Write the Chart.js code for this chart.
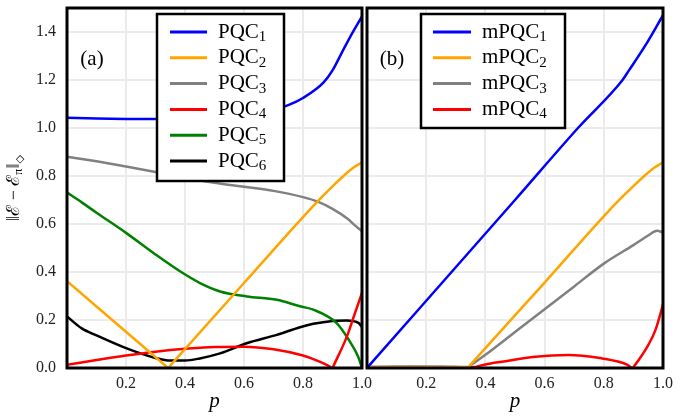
<!DOCTYPE html>
<html>
<head>
<meta charset="utf-8">
<script src="https://cdn.jsdelivr.net/npm/chart.js@4.4.1/dist/chart.umd.min.js"></script>
<style>
  html, body { margin: 0; padding: 0; background: #fff; }
  #wrap { position: relative; width: 684px; height: 418px; overflow: hidden; }
  .panel { position: absolute; top: 0; height: 418px; }
  #panelA { left: 0; width: 380px; }
  #panelB { left: 364px; width: 320px; }
</style>
</head>
<body>
<div id="wrap">
  <div class="panel" id="panelA"><canvas id="chartA"></canvas></div>
  <div class="panel" id="panelB"><canvas id="chartB"></canvas></div>
</div>
<script>
// ---- datos ----
// panel (a)
const pqc1P = [0, 0.1, 0.2, 0.3, 0.4, 0.5, 0.6, 0.7, 0.75, 0.8, 0.87, 0.9, 0.93, 0.96, 1.0];
const pqc1V = [1.043, 1.040, 1.038, 1.037, 1.037, 1.040, 1.050, 1.075, 1.095, 1.125, 1.19, 1.24, 1.31, 1.38, 1.465];

const pqc2P = [0, 0.333, 0.343, 0.353, 0.6, 0.8, 0.87, 0.9, 0.937, 0.97, 1.0];
const pqc2V = [0.362, 0.0106, 0, 0.0138, 0.354, 0.629, 0.72, 0.757, 0.80, 0.834, 0.857];

const pqc3P = [0, 0.1, 0.2, 0.3, 0.4, 0.5, 0.6, 0.7, 0.8, 0.85, 0.9, 0.95, 0.98, 1.0];
const pqc3V = [0.88, 0.861, 0.84, 0.817, 0.793, 0.772, 0.755, 0.738, 0.712, 0.693, 0.663, 0.623, 0.59, 0.57];

const pqc4P = [0, 0.1, 0.2, 0.3, 0.4, 0.5, 0.6, 0.7, 0.8, 0.85, 0.88, 0.895, 0.9, 0.905, 0.95, 0.976, 1.0];
const pqc4V = [0.013, 0.033, 0.052, 0.068, 0.08, 0.088, 0.089, 0.078, 0.052, 0.03, 0.013, 0.003, 0, 0.013, 0.135, 0.228, 0.313];

const pqc5P = [0, 0.05, 0.1, 0.2, 0.3, 0.383, 0.451, 0.519, 0.609, 0.711, 0.79, 0.835, 0.914, 0.959, 0.987, 1.0];
const pqc5V = [0.731, 0.69, 0.647, 0.563, 0.473, 0.403, 0.354, 0.319, 0.298, 0.284, 0.257, 0.243, 0.187, 0.11, 0.047, 0];

const pqc6P = [0, 0.05, 0.1, 0.2, 0.3, 0.35, 0.4, 0.45, 0.519, 0.609, 0.711, 0.79, 0.835, 0.9, 0.948, 0.988, 1.0];
const pqc6V = [0.215, 0.165, 0.136, 0.083, 0.042, 0.031, 0.031, 0.04, 0.061, 0.103, 0.138, 0.17, 0.184, 0.196, 0.198, 0.188, 0.17];

// panel (b)
const mpqc1P = [0, 0.5, 0.715, 0.862, 0.885, 0.941, 1.0];
const mpqc1V = [0, 0.70, 1.003, 1.198, 1.24, 1.345, 1.47];

const mpqc2P = [0, 0.1, 0.2, 0.3, 0.342, 0.352, 0.6, 0.817, 0.87, 0.9, 0.937, 0.97, 1.0];
const mpqc2V = [0.003, 0.003, 0.003, 0.003, 0.003, 0.017, 0.356, 0.655, 0.722, 0.758, 0.80, 0.834, 0.857];

const mpqc3P = [0, 0.1, 0.2, 0.3, 0.342, 0.352, 0.4, 0.5, 0.6, 0.7, 0.8, 0.9, 0.95, 0.98, 1.0];
const mpqc3V = [0.005, 0.006, 0.006, 0.005, 0.004, 0.013, 0.055, 0.15, 0.245, 0.34, 0.435, 0.512, 0.552, 0.572, 0.565];

const mpqc4P = [0, 0.1, 0.15, 0.2, 0.25, 0.3, 0.354, 0.4, 0.455, 0.568, 0.681, 0.794, 0.851, 0.88, 0.896, 0.905, 0.93, 0.95, 0.975, 1.0];
const mpqc4V = [0.002, 0.002, 0.004, 0.001, 0.004, 0.002, 0.003, 0.015, 0.026, 0.047, 0.054, 0.04, 0.026, 0.013, 0, 0.012, 0.055, 0.095, 0.16, 0.264];

const labelsA = ['PQC_1', 'PQC_2', 'PQC_3', 'PQC_4', 'PQC_5', 'PQC_6'];
const labelsB = ['mPQC_1', 'mPQC_2', 'mPQC_3', 'mPQC_4'];
const colores = ['#0000ff', '#ffa500', '#808080', '#ff0000', '#008000', '#000000'];

const serif = "'Liberation Serif', 'DejaVu Serif', serif";

function puntos(ps, vs) {
    return ps.map((p, i) => ({ x: p, y: vs[i] }));
}

function serie(label, color, ps, vs) {
    return {
        label: label,
        data: puntos(ps, vs),
        borderColor: color,
        backgroundColor: color,
        borderWidth: 2.5,
        pointRadius: 0,
        fill: false,
        cubicInterpolationMode: 'monotone'
    };
}

// marco negro alrededor del area
const marco = {
    id: 'marco',
    afterDatasetsDraw(chart) {
        const a = chart.chartArea, ctx = chart.ctx;
        ctx.save();
        ctx.strokeStyle = '#000';
        ctx.lineWidth = 3;
        ctx.strokeRect(a.left, a.top, a.right - a.left, a.bottom - a.top);
        ctx.restore();
    }
};

// leyenda dentro del grafico, con subindices
const leyenda = {
    id: 'leyenda',
    afterDraw(chart, args, o) {
        const ctx = chart.ctx;
        ctx.save();
        ctx.fillStyle = '#fff';
        ctx.fillRect(o.x, o.y, o.w, o.h);
        ctx.strokeStyle = '#000';
        ctx.lineWidth = 2.5;
        ctx.strokeRect(o.x, o.y, o.w, o.h);
        chart.data.datasets.forEach((ds, i) => {
            const y = o.rowY + i * o.rowGap;
            ctx.strokeStyle = ds.borderColor;
            ctx.lineWidth = 3;
            ctx.beginPath();
            ctx.moveTo(o.lineX, y);
            ctx.lineTo(o.lineX + o.lineLen, y);
            ctx.stroke();
            const partes = ds.label.split('_');
            ctx.fillStyle = '#000';
            ctx.textAlign = 'left';
            ctx.textBaseline = 'middle';
            ctx.font = '21px ' + serif;
            ctx.fillText(partes[0], o.textX, y);
            const w = ctx.measureText(partes[0]).width;
            ctx.font = '15px ' + serif;
            ctx.fillText(partes[1], o.textX + w, y + 5);
        });
        // etiqueta del panel
        ctx.fillStyle = '#000';
        ctx.font = '21px ' + serif;
        ctx.textAlign = 'center';
        ctx.textBaseline = 'middle';
        ctx.fillText(o.tag, o.tagX, o.tagY);
        ctx.restore();
    }
};

// titulo del eje y: ||E - E_pi||_diamond
const tituloY = {
    id: 'tituloY',
    afterDraw(chart, args, o) {
        if (!o.show) return;
        const ctx = chart.ctx;
        const partes = [
            { t: '‖ℰ − ℰ', s: 18, d: 0 },
            { t: 'π', s: 12, d: 5 },
            { t: '‖', s: 18, d: 0 },
            { t: '◇', s: 11, d: 6 }
        ];
        let total = 0;
        partes.forEach(p => {
            ctx.font = p.s + 'px ' + serif;
            p.w = ctx.measureText(p.t).width;
            total += p.w;
        });
        ctx.save();
        ctx.translate(o.x, o.y);
        ctx.rotate(-Math.PI / 2);
        ctx.fillStyle = '#000';
        ctx.textAlign = 'left';
        ctx.textBaseline = 'middle';
        let x = -total / 2;
        partes.forEach(p => {
            ctx.font = p.s + 'px ' + serif;
            ctx.fillText(p.t, x, p.d);
            x += p.w;
        });
        ctx.restore();
    }
};

function ejes(conY) {
    return {
        x: {
            type: 'linear',
            min: 0,
            max: 1,
            ticks: {
                stepSize: 0.2,
                padding: 6,
                color: '#222',
                font: { family: serif, size: 16 },
                callback: v => v.toFixed(1)
            },
            afterBuildTicks: s => { s.ticks = s.ticks.filter(t => t.value > 0.01); },
            grid: { color: '#ebebeb', lineWidth: 2, drawTicks: false },
            border: { display: false },
            title: {
                display: true,
                text: 'p',
                color: '#000',
                font: { family: serif, size: 21, style: 'italic' },
                padding: { top: 0, bottom: 4 }
            },
            afterFit: s => { s.height = 50; s.paddingLeft = 0; s.paddingRight = 0; }
        },
        y: {
            min: 0,
            max: 1.5,
            ticks: {
                display: conY,
                stepSize: 0.2,
                padding: 11,
                color: '#222',
                font: { family: serif, size: 16 },
                callback: v => v.toFixed(1)
            },
            afterBuildTicks: s => { s.ticks = s.ticks.filter(t => t.value < 1.45); },
            grid: { color: '#ebebeb', lineWidth: 2, drawTicks: false },
            border: { display: false },
            afterFit: s => { s.width = conY ? 67 : 0; s.paddingTop = 0; s.paddingBottom = 0; }
        }
    };
}

const ctxA = document.getElementById('chartA').getContext('2d');
const chartA = new Chart(ctxA, {
    type: 'line',
    data: {
        datasets: [
            serie(labelsA[0], colores[0], pqc1P, pqc1V),
            serie(labelsA[1], colores[1], pqc2P, pqc2V),
            serie(labelsA[2], colores[2], pqc3P, pqc3V),
            serie(labelsA[3], colores[3], pqc4P, pqc4V),
            serie(labelsA[4], colores[4], pqc5P, pqc5V),
            serie(labelsA[5], colores[5], pqc6P, pqc6V)
        ]
    },
    options: {
        responsive: true,
        maintainAspectRatio: false,
        animation: false,
        layout: { padding: { left: 0, right: 18, top: 8, bottom: 0 } },
        scales: ejes(true),
        plugins: {
            legend: { display: false },
            tooltip: { enabled: false },
            leyenda: {
                x: 157, y: 14, w: 127, h: 167,
                rowY: 32, rowGap: 25.8,
                lineX: 170, lineLen: 37, textX: 218,
                tag: '(a)', tagX: 92, tagY: 59
            },
            tituloY: { show: true, x: 14, y: 188 }
        }
    },
    plugins: [marco, leyenda, tituloY]
});

const ctxB = document.getElementById('chartB').getContext('2d');
const chartB = new Chart(ctxB, {
    type: 'line',
    data: {
        datasets: [
            serie(labelsB[0], colores[0], mpqc1P, mpqc1V),
            serie(labelsB[1], colores[1], mpqc2P, mpqc2V),
            serie(labelsB[2], colores[2], mpqc3P, mpqc3V),
            serie(labelsB[3], colores[3], mpqc4P, mpqc4V)
        ]
    },
    options: {
        responsive: true,
        maintainAspectRatio: false,
        animation: false,
        layout: { padding: { left: 3, right: 21, top: 8, bottom: 0 } },
        scales: ejes(false),
        plugins: {
            legend: { display: false },
            tooltip: { enabled: false },
            leyenda: {
                x: 57, y: 14, w: 144, h: 114,
                rowY: 32, rowGap: 25.8,
                lineX: 69, lineLen: 38, textX: 118,
                tag: '(b)', tagX: 28, tagY: 59
            },
            tituloY: { show: false }
        }
    },
    plugins: [marco, leyenda, tituloY]
});
</script>
</body>
</html>
